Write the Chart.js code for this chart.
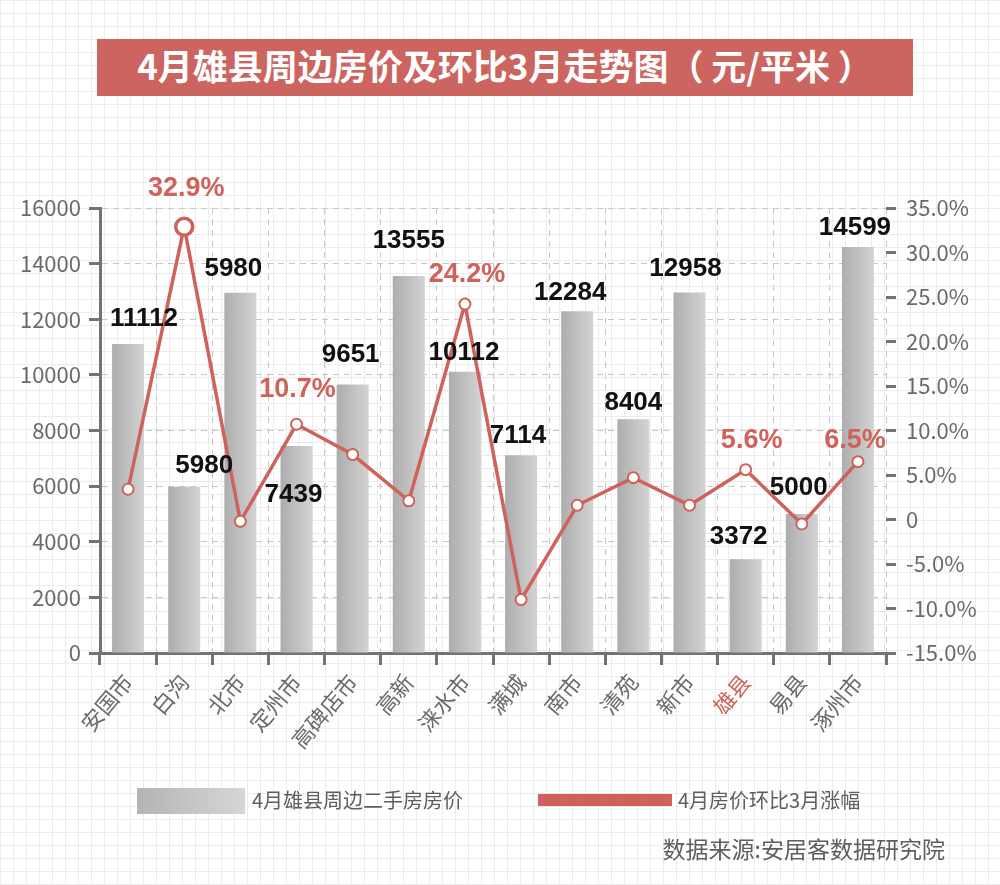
<!DOCTYPE html>
<html>
<head>
<meta charset="utf-8">
<script src="https://cdn.jsdelivr.net/npm/chart.js@4.4.0/dist/chart.umd.min.js"></script>
<style>
  body { margin: 0; }
  #wrap {
    position: relative; width: 1000px; height: 885px; background-color: #fff;
    background-image: linear-gradient(#ececec 1px, transparent 1px), linear-gradient(90deg, #ececec 1px, transparent 1px);
    background-size: 13px 13px;
  }
  #title {
    position: absolute; left: 97px; top: 39px; width: 816px; height: 57px;
    background: #cc6560; color: #fff; text-align: center; line-height: 57px;
    font: bold 35px "Noto Sans CJK SC", sans-serif;
  }
  canvas { position: absolute; left: 0; top: 0; }
  .lg { position: absolute; color: #5e5e5e; font: 20px "Noto Sans CJK SC", sans-serif; }
  #box1 { position: absolute; left: 137px; top: 788px; width: 108px; height: 26px;
    background: linear-gradient(90deg, #b4b4b4, #d6d6d6); }
  #box2 { position: absolute; left: 538px; top: 794px; width: 134px; height: 12px; background: #cf625a; }
  #src { position: absolute; right: 55px; top: 831px; color: #5e5e5e; font: 23px "Noto Sans CJK SC", sans-serif; }
</style>
</head>
<body>
<div id="wrap">
  <canvas id="grafico" width="1000" height="885"></canvas>
  <div id="title">4月雄县周边房价及环比3月走势图（ 元/平米 ）</div>
  <div id="box1"></div><div class="lg" style="left:252px;top:785px">4月雄县周边二手房房价</div>
  <div id="box2"></div><div class="lg" style="left:678px;top:785px">4月房价环比3月涨幅</div>
  <div id="src">数据来源:安居客数据研究院</div>
</div>
<script>
const cidades = ['安国市', '白沟', '北市', '定州市', '高碑店市', '高新', '涞水市', '满城', '南市', '清苑', '新市', '雄县', '易县', '涿州市'];
const precos = [11112, 5980, 12950, 7439, 9651, 13555, 10112, 7114, 12284, 8404, 12958, 3372, 5000, 14599];
const rotulosPreco = ['11112', '5980', '5980', '7439', '9651', '13555', '10112', '7114', '12284', '8404', '12958', '3372', '5000', '14599'];
const variacao = [3.4, 32.9, -0.2, 10.7, 7.3, 2.1, 24.2, -9.0, 1.6, 4.7, 1.6, 5.6, -0.5, 6.5];
const rotulosVariacao = ['', '32.9%', '', '10.7%', '', '', '24.2%', '', '', '', '', '5.6%', '', '6.5%'];
const ticksPreco = [0, 2000, 4000, 6000, 8000, 10000, 12000, 14000, 16000];
const ticksVariacao = [-15, -10, -5, 0, 5, 10, 15, 20, 25, 30, 35];

// label nudges (px) relative to bar top / point
const ajustePreco = [[16,-25],[20,-21],[-7,-24],[-3,49],[-2,-30],[0,-35],[-1,-19],[-3,-19],[-7,-19],[0,-16],[-4,-24],[-7,-22],[-3,-26],[-3,-19]];
const ajusteVar = { 1: [2,-38], 3: [1,-35], 6: [2,-30], 11: [6,-29], 13: [-3,-21] };

const vermelho = '#cf625a';
const cinza = '#6a6a6a';
const eixo = '#737373';

const rotulos = {
  id: 'rotulos',
  afterDatasetsDraw(chart) {
    const c = chart.ctx;
    const barras = chart.getDatasetMeta(1).data;
    const pontos = chart.getDatasetMeta(0).data;
    c.save();
    c.textAlign = 'center';
    c.textBaseline = 'middle';
    c.font = 'bold 26px "Liberation Sans", Arial, sans-serif';
    c.fillStyle = '#111';
    barras.forEach((b, i) => {
      c.fillText(rotulosPreco[i], b.x + ajustePreco[i][0], b.y + ajustePreco[i][1]);
    });
    c.font = 'bold 27px "Liberation Sans", Arial, sans-serif';
    c.fillStyle = vermelho;
    pontos.forEach((p, i) => {
      if (!rotulosVariacao[i]) return;
      const a = ajusteVar[i];
      c.fillText(rotulosVariacao[i], p.x + a[0], p.y + a[1]);
    });
    c.restore();
  }
};

function gradienteBarra(context) {
  const chart = context.chart;
  if (!chart.chartArea) return '#c0c0c0';
  const x = chart.scales.x.getPixelForValue(context.dataIndex);
  const w = 16;
  const g = chart.ctx.createLinearGradient(x - w, 0, x + w, 0);
  g.addColorStop(0, '#adadad');
  g.addColorStop(1, '#d3d3d3');
  return g;
}

const ctx = document.getElementById('grafico').getContext('2d');
new Chart(ctx, {
  data: {
    labels: cidades,
    datasets: [{
      type: 'line',
      label: '4月房价环比3月涨幅',
      data: variacao,
      yAxisID: 'y1',
      borderColor: vermelho,
      borderWidth: 3.5,
      pointBackgroundColor: '#fff',
      pointBorderColor: vermelho,
      pointRadius: c => c.dataIndex === 1 ? 8.5 : 5.5,
      pointBorderWidth: c => c.dataIndex === 1 ? 3.5 : 2,
      tension: 0,
      order: 0
    }, {
      type: 'bar',
      label: '4月雄县周边二手房房价',
      data: precos,
      yAxisID: 'y',
      backgroundColor: gradienteBarra,
      barPercentage: 0.57,
      categoryPercentage: 1,
      order: 1
    }]
  },
  options: {
    responsive: false,
    animation: false,
    layout: { padding: { top: 208, left: 0, right: 0, bottom: 0 } },
    plugins: {
      legend: { display: false },
      tooltip: { enabled: false }
    },
    scales: {
      x: {
        offset: true,
        afterFit: s => { s.height = 232; },
        grid: { offset: true, color: '#c8c8c8', tickColor: eixo, tickWidth: 3, tickLength: 12, tickBorderDash: [] },
        border: { display: true, color: eixo, width: 3, dash: [6, 5] },
        ticks: {
          minRotation: 50, maxRotation: 50, padding: 4,
          color: c => c.index === 11 ? vermelho : cinza,
          font: { family: '"Noto Sans CJK SC", sans-serif', size: 22 }
        }
      },
      y: {
        position: 'left',
        min: 0, max: 16000,
        afterFit: s => { s.width = 100; },
        afterBuildTicks: s => { s.ticks = ticksPreco.map(v => ({ value: v })); },
        grid: { color: '#c8c8c8', tickColor: eixo, tickWidth: 3, tickLength: 11, tickBorderDash: [] },
        border: { display: true, color: eixo, width: 3, dash: [6, 5] },
        ticks: {
          color: cinza, padding: 8,
          font: { family: '"Noto Sans CJK SC", sans-serif', size: 22 },
          callback: v => String(v)
        }
      },
      y1: {
        position: 'right',
        min: -15, max: 35,
        afterFit: s => { s.width = 114; },
        afterBuildTicks: s => { s.ticks = ticksVariacao.map(v => ({ value: v })); },
        grid: { drawOnChartArea: false, tickColor: eixo, tickWidth: 3, tickLength: 10 },
        border: { display: false },
        ticks: {
          color: cinza, padding: 10,
          font: { family: '"Noto Sans CJK SC", sans-serif', size: 22 },
          callback: v => v === 0 ? '0' : v.toFixed(1) + '%'
        }
      }
    }
  },
  plugins: [rotulos]
});
</script>
</body>
</html>
